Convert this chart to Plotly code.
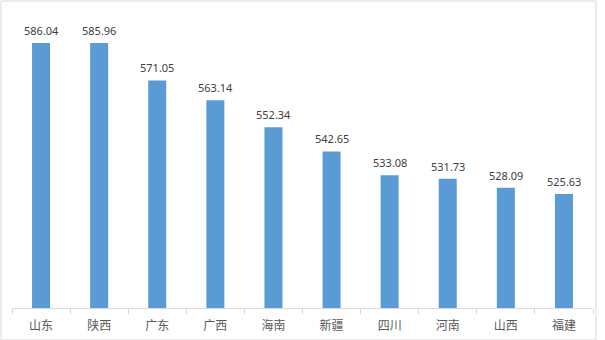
import plotly.graph_objects as go

categories = ["山东", "陕西", "广东", "广西", "海南", "新疆", "四川", "河南", "山西", "福建"]
values = [586.04, 585.96, 571.05, 563.14, 552.34, 542.65, 533.08, 531.73, 528.09, 525.63]
value_labels = [f"{v:.2f}" for v in values]

W, H = 605, 340
fig = go.Figure(go.Bar(
    x=categories, y=values,
    marker=dict(color="#5B9BD5", line=dict(width=0)),
    width=0.31,
    cliponaxis=False,
))
for c, v, t in zip(categories, values, value_labels):
    fig.add_annotation(x=c, y=v, text=t, showarrow=False, yanchor="bottom",
                       yshift=3, font=dict(family="Noto Sans, sans-serif", size=11, color="#404040"))
fig.update_layout(
    width=W, height=H,
    margin=dict(l=12, r=12, t=8, b=32),
    paper_bgcolor="white", plot_bgcolor="white",
    showlegend=False,
    font=dict(family="Noto Sans CJK SC, sans-serif", size=12, color="#595959"),
)
fig.update_xaxes(
    showline=True, linecolor="#D9D9D9", linewidth=1,
    ticks="outside", tickson="boundaries", ticklen=5, tickcolor="#D9D9D9",
    tickfont=dict(size=12, color="#595959"), ticklabelstandoff=7, showgrid=False,
)
fig.update_yaxes(range=[480, 600], visible=False, showgrid=False)
fig.add_shape(type="rect", xref="paper", yref="paper",
              x0=-11/581, x1=1 + 3/581, y0=-32/300, y1=1 + 7/300,
              line=dict(color="#D9D9D9", width=1), fillcolor="rgba(0,0,0,0)")
fig.write_html("out.html")
